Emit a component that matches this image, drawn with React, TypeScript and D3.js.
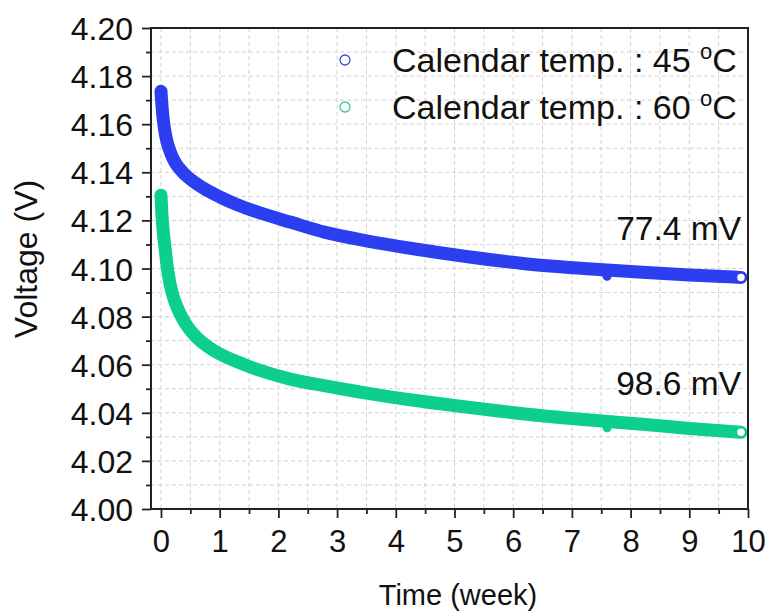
import React, { useEffect, useRef } from 'react';
import * as d3 from 'd3';

// tick values
const timeTicks = [0, 1, 2, 3, 4, 5, 6, 7, 8, 9, 10];
const timeMinor = [0.5, 1.5, 2.5, 3.5, 4.5, 5.5, 6.5, 7.5, 8.5, 9.5];
const voltTicks = [4.0, 4.02, 4.04, 4.06, 4.08, 4.1, 4.12, 4.14, 4.16, 4.18, 4.2];
const voltMinor = [4.01, 4.03, 4.05, 4.07, 4.09, 4.11, 4.13, 4.15, 4.17, 4.19];

// 45 oC series
const t45 = [0, 0.01, 0.03, 0.06, 0.1, 0.15, 0.22, 0.3, 0.4, 0.55, 0.75, 1.0, 1.3, 1.7, 2.2, 2.8, 3.5, 4.3, 5.2, 6.2, 7.2, 8.2, 9.0, 9.88];
const v45 = [4.1737, 4.17, 4.164, 4.158, 4.153, 4.149, 4.145, 4.142, 4.1393, 4.1362, 4.133, 4.1298, 4.1265, 4.123, 4.1193, 4.115, 4.1115, 4.1082, 4.105, 4.102, 4.1, 4.0984, 4.0973, 4.0963];

// 60 oC series
const t60 = [0, 0.015, 0.04, 0.07, 0.1, 0.14, 0.2, 0.3, 0.42, 0.6, 0.8, 1.0, 1.3, 1.7, 2.2, 2.8, 3.5, 4.3, 5.2, 6.2, 7.2, 8.2, 9.0, 9.88];
const v60 = [4.1305, 4.123, 4.115, 4.1085, 4.1018, 4.0955, 4.089, 4.0825, 4.077, 4.0715, 4.0675, 4.0645, 4.0612, 4.0575, 4.054, 4.0512, 4.0482, 4.0452, 4.0424, 4.0395, 4.0372, 4.0352, 4.0335, 4.0319];

// small outlier points near week 7.6
const glitchT = [7.6];
const glitch45 = [4.0968];
const glitch60 = [4.0338];

const legendTemps = ['45', '60'];
const dropLabels = ['77.4 mV', '98.6 mV'];

const BLUE = '#2b3ef0';
const GREEN = '#0ccf8b';
const FONT = '"Liberation Sans", Arial, sans-serif';

const App: React.FC = () => {
  const ref = useRef<SVGSVGElement | null>(null);

  useEffect(() => {
    document.body.style.margin = '0';
    const svg = d3.select(ref.current);
    svg.selectAll('*').remove();

    const left = 151, right = 748, top = 28, bottom = 509;
    const x = d3.scaleLinear().domain([-0.17, 10]).range([left, right]);
    const y = d3.scaleLinear().domain([4.0, 4.2]).range([bottom, top]);

    // grid
    const grid = svg.append('g').attr('stroke', '#d2d2d2').attr('stroke-width', 1).attr('stroke-dasharray', '4,3');
    [...timeTicks, ...timeMinor].forEach(t => {
      grid.append('line').attr('x1', x(t)).attr('x2', x(t)).attr('y1', top).attr('y2', bottom);
    });
    [...voltTicks, ...voltMinor].forEach(v => {
      grid.append('line').attr('x1', left).attr('x2', right).attr('y1', y(v)).attr('y2', y(v));
    });

    // series
    const line = d3.line<[number, number]>()
      .x(d => x(d[0]))
      .y(d => y(d[1]))
      .curve(d3.curveMonotoneX);

    const series = [
      { t: t45, v: v45, color: BLUE, glitch: glitch45 },
      { t: t60, v: v60, color: GREEN, glitch: glitch60 },
    ];

    series.forEach(s => {
      const pts = s.t.map((t, i) => [t, s.v[i]] as [number, number]);
      svg.append('path')
        .attr('d', line(pts) || '')
        .attr('fill', 'none')
        .attr('stroke', s.color)
        .attr('stroke-width', 13)
        .attr('stroke-linecap', 'round')
        .attr('stroke-linejoin', 'round');
      glitchT.forEach((t, i) => {
        svg.append('circle').attr('cx', x(t)).attr('cy', y(s.glitch[i])).attr('r', 4.5).attr('fill', s.color);
      });
      const last = pts[pts.length - 1];
      svg.append('circle')
        .attr('cx', x(last[0])).attr('cy', y(last[1])).attr('r', 4.5)
        .attr('fill', '#fff').attr('stroke', s.color).attr('stroke-width', 1.5);
    });

    // frame
    svg.append('rect')
      .attr('x', left).attr('y', top).attr('width', right - left).attr('height', bottom - top)
      .attr('fill', 'none').attr('stroke', '#222').attr('stroke-width', 2);

    // y axis
    const yAxis = svg.append('g').attr('transform', `translate(${left},0)`)
      .call(d3.axisLeft(y).tickValues(voltTicks).tickSize(9).tickSizeOuter(0).tickPadding(9).tickFormat(d3.format('.2f')));
    svg.append('g').attr('transform', `translate(${left},0)`)
      .call(d3.axisLeft(y).tickValues(voltMinor).tickSize(5).tickSizeOuter(0).tickFormat(() => ''));

    // x axis
    const xAxis = svg.append('g').attr('transform', `translate(0,${bottom})`)
      .call(d3.axisBottom(x).tickValues(timeTicks).tickSize(9).tickSizeOuter(0).tickFormat(d3.format('d')));
    svg.append('g').attr('transform', `translate(0,${bottom})`)
      .call(d3.axisBottom(x).tickValues(timeMinor).tickSize(5).tickSizeOuter(0).tickFormat(() => ''));

    svg.selectAll('.domain').remove();
    svg.selectAll('.tick line').attr('stroke', '#222').attr('stroke-width', 1.8);

    yAxis.selectAll('text')
      .attr('font-family', FONT).attr('font-size', 32).attr('fill', '#111')
      .attr('dy', '0.36em');
    xAxis.selectAll('text')
      .attr('font-family', FONT).attr('font-size', 31).attr('fill', '#111')
      .attr('dy', null).attr('y', 43);

    // axis titles
    svg.append('text')
      .attr('transform', `translate(37,259) rotate(-90)`)
      .attr('text-anchor', 'middle')
      .attr('font-family', FONT).attr('font-size', 32).attr('fill', '#111')
      .text('Voltage (V)');
    svg.append('text')
      .attr('x', 458).attr('y', 605)
      .attr('text-anchor', 'middle')
      .attr('font-family', FONT).attr('font-size', 29).attr('fill', '#111')
      .text('Time (week)');

    // legend
    const legendColors = ['#3a4ed8', '#3cc79a'];
    legendTemps.forEach((temp, i) => {
      const cy = 60 + i * 47;
      svg.append('circle').attr('cx', 345).attr('cy', cy).attr('r', 5)
        .attr('fill', 'none').attr('stroke', legendColors[i]).attr('stroke-width', 1.3);
      const tx = svg.append('text')
        .attr('x', 392).attr('y', cy + 12)
        .attr('font-family', FONT).attr('font-size', 34).attr('fill', '#111');
      tx.append('tspan').text(`Calendar temp. : ${temp} `);
      tx.append('tspan').attr('font-size', 22).attr('dy', -13).text('o');
      tx.append('tspan').attr('dy', 13).text('C');
    });

    // drop annotations
    const lastV = [v45[v45.length - 1], v60[v60.length - 1]];
    dropLabels.forEach((lab, i) => {
      svg.append('text')
        .attr('x', 741).attr('y', y(lastV[i]) - 37)
        .attr('text-anchor', 'end')
        .attr('font-family', FONT).attr('font-size', 33.5).attr('fill', '#111')
        .text(lab);
    });
  }, []);

  return <svg ref={ref} width={765} height={614} style={{ display: 'block', background: '#fff' }} />;
};

export default App;
